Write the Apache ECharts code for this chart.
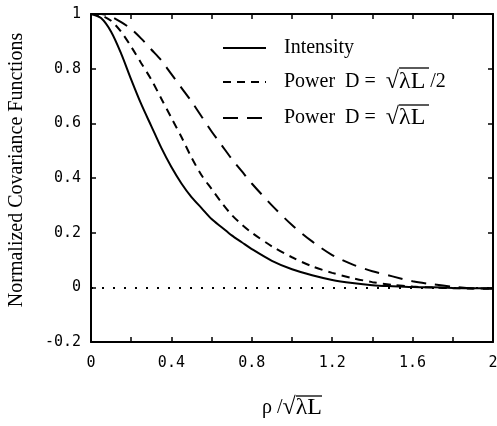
<!DOCTYPE html>
<html>
<head>
<meta charset="utf-8">
<script src="https://cdn.jsdelivr.net/npm/echarts@6/dist/echarts.min.js"></script>
<style>
html, body { margin: 0; padding: 0; background: #fff; }
#chart { width: 497px; height: 426px; }
</style>
</head>
<body>
<div id="chart"></div>
<script>
// 归一化协方差函数
var rho = [0, 0.05, 0.1, 0.15, 0.2, 0.25, 0.3, 0.35, 0.4, 0.45, 0.5, 0.55, 0.6, 0.65, 0.7, 0.75, 0.8, 0.9, 1.0, 1.1, 1.2, 1.3, 1.4, 1.5, 1.6, 1.7, 1.8, 1.9, 2.0];
var intensity = [1, 0.985, 0.935, 0.855, 0.76, 0.67, 0.59, 0.51, 0.44, 0.38, 0.33, 0.29, 0.25, 0.22, 0.19, 0.165, 0.14, 0.097, 0.066, 0.044, 0.027, 0.016, 0.008, 0.004, 0.001, 0, -0.002, -0.003, -0.003];
var powerHalf = [1, 0.995, 0.975, 0.935, 0.88, 0.82, 0.76, 0.69, 0.62, 0.55, 0.475, 0.41, 0.36, 0.31, 0.265, 0.23, 0.2, 0.15, 0.11, 0.077, 0.053, 0.034, 0.019, 0.009, 0.003, -0.001, -0.003, -0.004, -0.004];
var powerFull = [1, 1, 0.99, 0.97, 0.945, 0.91, 0.87, 0.83, 0.78, 0.73, 0.68, 0.625, 0.57, 0.52, 0.47, 0.425, 0.38, 0.3, 0.228, 0.168, 0.118, 0.084, 0.059, 0.04, 0.022, 0.011, 0.002, -0.004, -0.005];
var seriesNames = ['Intensity', 'Power  D = \u221A\u03BBL /2', 'Power  D = \u221A\u03BBL'];
var xTickLabels = ['0', '0.4', '0.8', '1.2', '1.6', '2'];

function pairs(ys) {
    return rho.map(function (x, i) { return [x, ys[i]]; });
}

var chart = echarts.init(document.getElementById('chart'));
var serif = 'Liberation Serif';
var mono = 'DejaVu Sans Mono';
var rootRich = { r: { fontFamily: serif, fontSize: 24, color: '#000' } };

var frameAxis = {
    axisLine: { show: true, onZero: false, lineStyle: { color: '#000', width: 2 } },
    axisTick: { show: true, inside: true, length: 5, lineStyle: { color: '#000', width: 1.5 } },
    splitLine: { show: false }
};

// 根号上的横线
function bar(x1, x2, y) {
    return { type: 'line', silent: true, shape: { x1: x1, y1: y, x2: x2, y2: y }, style: { stroke: '#000', lineWidth: 1.3 } };
}

var option = {
    animation: false,
    color: ['#000', '#000', '#000'],
    grid: { left: 91, right: 4, top: 14, bottom: 84, outerBoundsMode: 'none', containLabel: false },
    xAxis: [
        echarts.util.merge({
            type: 'value', min: 0, max: 2, interval: 0.2,
            name: 'ρ /{r|\u221A\u03BBL}', nameLocation: 'middle', nameGap: 54,
            nameTextStyle: { fontFamily: serif, fontSize: 20, color: '#000', rich: rootRich },
            axisLabel: {
                margin: 14, color: '#000', fontFamily: mono, fontSize: 15,
                formatter: function (v) {
                    var k = Math.round(v * 10);
                    return k % 4 === 0 ? xTickLabels[k / 4] : '';
                }
            }
        }, frameAxis, true),
        echarts.util.merge({
            type: 'value', min: 0, max: 2, interval: 0.2, position: 'top',
            axisLabel: { show: false }
        }, frameAxis, true)
    ],
    yAxis: [
        echarts.util.merge({
            type: 'value', min: -0.2, max: 1, interval: 0.2,
            name: 'Normalized Covariance Functions', nameLocation: 'middle', nameGap: 64,
            nameTextStyle: { fontFamily: serif, fontSize: 20, color: '#000', padding: [0, 0, 0, 16] },
            axisLabel: { margin: 10, color: '#000', fontFamily: mono, fontSize: 15 }
        }, frameAxis, true),
        echarts.util.merge({
            type: 'value', min: -0.2, max: 1, interval: 0.2, position: 'right',
            axisLabel: { show: false }
        }, frameAxis, true)
    ],
    legend: {
        orient: 'vertical', left: 217, top: 33, itemGap: 12,
        itemWidth: 43, itemHeight: 20,
        itemStyle: { opacity: 0 },
        textStyle: { fontFamily: serif, fontSize: 20, color: '#000', padding: [0, 0, 0, 13], rich: rootRich },
        formatter: function (name) {
            return name.replace('= \u221A\u03BBL', '=  {r|\u221A\u03BBL}');
        },
        data: seriesNames
    },
    graphic: [
        bar(399, 429, 68),
        bar(399, 429, 105),
        bar(296, 322, 396)
    ],
    series: [
        {
            name: seriesNames[0], type: 'line', data: pairs(intensity),
            smooth: 0.3, symbol: 'none',
            lineStyle: { color: '#000', width: 2, type: 'solid' },
            markLine: {
                silent: true, symbol: 'none', label: { show: false },
                lineStyle: { color: '#000', width: 2, type: [2, 9] },
                data: [{ yAxis: 0 }]
            }
        },
        {
            name: seriesNames[1], type: 'line', data: pairs(powerHalf),
            smooth: 0.3, symbol: 'none',
            lineStyle: { color: '#000', width: 2, type: [8, 6] }
        },
        {
            name: seriesNames[2], type: 'line', data: pairs(powerFull),
            smooth: 0.3, symbol: 'none',
            lineStyle: { color: '#000', width: 2, type: [15, 9] }
        }
    ]
};
chart.setOption(option);
</script>
</body>
</html>
